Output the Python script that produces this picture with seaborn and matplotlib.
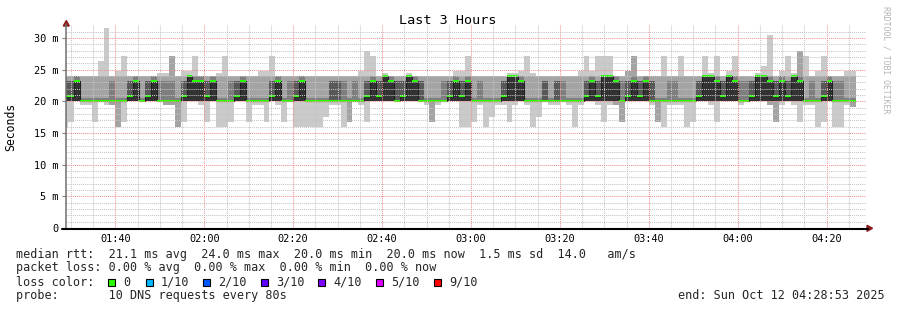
import numpy as np
import matplotlib
matplotlib.use("Agg")
import matplotlib.pyplot as plt
import seaborn as sns
from matplotlib.patches import Polygon, Rectangle
from matplotlib.lines import Line2D

# ---------------- data (ms) ----------------
STEP_S = 80
FIRST_STEP_S = 5280          # 01:28:00, seconds since midnight
VIEW_START_S = 5333          # 01:28:53
VIEW_END_S = 16133           # 04:28:53

# sorted pings per 80 s step (10 DNS requests), rank 1 = fastest
ping01 = [16.0, 16.7, 20.0, 19.4, 19.4, 16.7, 20.0, 19.4, 19.4, 16.0,
          16.7, 20.0, 20.0, 20.0, 20.0, 20.0, 20.0, 19.4, 19.4, 16.0,
          16.7, 20.0, 20.0, 19.4, 16.7, 20.0, 16.0, 16.0, 16.7, 20.0,
          20.0, 16.7, 19.4, 19.4, 16.7, 20.0, 19.4, 16.7, 20.0, 16.0,
          16.0, 16.0, 16.0, 16.0, 17.5, 19.4, 19.4, 16.0, 16.7, 20.0,
          19.4, 16.7, 20.0, 20.0, 20.0, 20.0, 20.0, 20.0, 20.0, 20.0,
          20.0, 19.4, 16.7, 19.4, 20.0, 20.0, 20.0, 16.0, 16.0, 16.7,
          19.4, 16.0, 17.5, 19.4, 19.4, 16.7, 19.4, 20.0, 19.4, 16.0,
          17.5, 20.0, 19.4, 19.4, 20.0, 19.4, 16.0, 19.4, 20.0, 20.0,
          19.4, 16.7, 19.4, 19.4, 16.7, 20.0, 20.0, 20.0, 20.0, 19.4,
          16.7, 16.0, 19.4, 19.4, 19.4, 16.0, 16.7, 20.0, 20.0, 19.4,
          16.7, 20.0, 20.0, 20.0, 19.4, 20.0, 20.0, 20.0, 20.0, 19.4,
          16.7, 19.4, 20.0, 19.4, 16.7, 19.4, 19.4, 16.0, 16.7, 20.0,
          16.0, 16.0, 19.4, 19.1]
ping02 = [20.0, 20.0, 20.0, 20.0, 20.0, 20.0, 20.0, 20.0, 19.4, 16.0,
          20.0, 20.0, 20.0, 20.0, 20.0, 20.0, 20.0, 19.4, 19.4, 16.0,
          20.0, 20.0, 20.0, 20.0, 20.0, 20.0, 20.0, 20.0, 20.0, 20.0,
          20.0, 20.0, 20.0, 20.0, 20.0, 20.0, 20.0, 20.0, 20.0, 20.0,
          20.0, 20.0, 20.0, 20.0, 20.0, 20.0, 20.0, 20.0, 16.7, 20.0,
          20.0, 20.0, 20.0, 20.0, 20.0, 20.0, 20.0, 20.0, 20.0, 20.0,
          20.0, 20.0, 16.7, 20.0, 20.0, 20.0, 20.0, 20.0, 20.0, 20.0,
          20.0, 20.0, 20.0, 20.0, 20.0, 20.0, 20.0, 20.0, 20.0, 20.0,
          20.0, 20.0, 20.0, 20.0, 20.0, 20.0, 20.0, 20.0, 20.0, 20.0,
          20.0, 20.0, 20.0, 19.4, 16.7, 20.0, 20.0, 20.0, 20.0, 20.0,
          16.7, 20.0, 20.0, 20.0, 20.0, 20.0, 20.0, 20.0, 20.0, 20.0,
          20.0, 20.0, 20.0, 20.0, 20.0, 20.0, 20.0, 20.0, 20.0, 19.4,
          16.7, 20.0, 20.0, 20.0, 20.0, 20.0, 20.0, 20.0, 20.0, 20.0,
          20.0, 20.0, 20.0, 19.1]
ping03 = [20.0, 20.0, 20.0, 20.0, 20.0, 20.0, 20.0, 20.0, 20.0, 20.0,
          20.0, 20.0, 20.0, 20.0, 20.0, 20.0, 20.0, 20.0, 20.0, 20.0,
          20.0, 20.0, 20.0, 20.0, 20.0, 20.0, 20.0, 20.0, 20.0, 20.0,
          20.0, 20.0, 20.0, 20.0, 20.0, 20.0, 20.0, 20.0, 20.0, 20.0,
          20.0, 20.0, 20.0, 20.0, 20.0, 20.0, 20.0, 20.0, 20.0, 20.0,
          20.0, 20.0, 20.0, 20.0, 20.0, 20.0, 20.0, 20.0, 20.0, 20.0,
          20.0, 20.0, 20.0, 20.0, 20.0, 20.0, 20.0, 20.0, 20.0, 20.0,
          20.0, 20.0, 20.0, 20.0, 20.0, 20.0, 20.0, 20.0, 20.0, 20.0,
          20.0, 20.0, 20.0, 20.0, 20.0, 20.0, 20.0, 20.0, 20.0, 20.0,
          20.0, 20.0, 20.0, 20.0, 20.0, 20.0, 20.0, 20.0, 20.0, 20.0,
          20.0, 20.0, 20.0, 20.0, 20.0, 20.0, 20.0, 20.0, 20.0, 20.0,
          20.0, 20.0, 20.0, 20.0, 20.0, 20.0, 20.0, 20.0, 20.0, 20.0,
          20.0, 20.0, 20.0, 20.0, 20.0, 20.0, 20.0, 20.0, 20.0, 20.0,
          20.0, 20.0, 20.0, 20.0]
ping04 = list(ping03)
ping05 = list(ping03)
# rank 6 = median (green line)
ping06 = [20.8, 20.8, 23.2, 20.0, 20.0, 20.0, 20.0, 20.0, 20.0, 20.0,
          20.0, 20.8, 23.2, 20.0, 20.8, 23.2, 20.0, 20.0, 20.0, 20.0,
          20.8, 24.0, 23.2, 23.2, 20.8, 23.2, 20.0, 20.0, 20.0, 20.8,
          23.2, 20.0, 20.0, 20.0, 20.0, 20.8, 23.2, 20.0, 20.0, 20.8,
          23.2, 20.0, 20.0, 20.0, 20.0, 20.0, 20.0, 20.0, 20.0, 20.0,
          20.0, 20.8, 23.2, 20.8, 24.0, 23.2, 20.0, 20.8, 24.0, 23.2,
          20.0, 20.0, 20.0, 20.0, 20.0, 20.8, 23.2, 20.8, 23.2, 20.0,
          20.0, 20.0, 20.0, 20.0, 20.8, 24.0, 24.0, 23.2, 20.0, 20.0,
          20.0, 20.0, 20.0, 20.0, 20.0, 20.0, 20.0, 20.0, 20.8, 23.2,
          20.8, 24.0, 24.0, 23.2, 20.0, 20.8, 23.2, 20.8, 23.2, 20.0,
          20.0, 20.0, 20.0, 20.0, 20.0, 20.0, 20.0, 20.8, 24.0, 24.0,
          23.2, 20.8, 24.0, 23.2, 20.0, 20.0, 20.8, 24.0, 24.0, 23.2,
          20.8, 23.2, 20.8, 24.0, 23.2, 20.0, 20.0, 20.0, 20.8, 23.2,
          20.0, 20.0, 20.0, 20.0]
ping07 = [23.2, 23.2, 23.2, 20.0, 20.0, 20.0, 20.0, 20.0, 20.0, 20.0,
          20.0, 23.2, 23.2, 20.0, 23.2, 23.2, 20.0, 20.0, 20.0, 20.0,
          23.2, 24.0, 23.2, 23.2, 23.2, 23.2, 20.0, 20.0, 20.0, 23.2,
          23.2, 20.0, 20.0, 20.0, 20.0, 23.2, 23.2, 20.0, 20.0, 23.2,
          23.2, 20.0, 20.0, 20.0, 20.0, 23.2, 23.2, 20.0, 20.0, 20.0,
          20.0, 23.2, 23.2, 23.2, 24.0, 23.2, 23.2, 23.2, 24.0, 23.2,
          23.2, 20.0, 20.0, 20.0, 20.0, 23.2, 23.2, 23.2, 23.2, 20.0,
          20.0, 20.0, 20.0, 20.0, 23.2, 24.0, 24.0, 23.2, 20.0, 20.0,
          20.0, 23.2, 20.0, 23.2, 20.0, 20.0, 20.0, 20.0, 23.2, 23.2,
          23.2, 24.0, 24.0, 23.2, 20.0, 23.2, 23.2, 23.2, 23.2, 23.2,
          20.0, 20.0, 20.0, 20.0, 20.0, 20.0, 20.0, 23.2, 24.0, 24.0,
          23.2, 23.2, 24.0, 23.2, 20.0, 20.0, 23.2, 24.0, 24.0, 23.2,
          23.2, 23.2, 23.2, 24.0, 23.2, 20.0, 20.0, 20.0, 23.2, 23.2,
          20.0, 20.0, 20.0, 20.0]
ping08 = [23.2, 23.2, 24.0, 20.6, 20.6, 20.6, 20.6, 20.6, 23.2, 20.6,
          20.6, 23.2, 24.0, 20.6, 23.2, 24.0, 23.2, 23.2, 23.2, 20.6,
          23.2, 24.0, 24.0, 24.0, 23.2, 24.0, 20.6, 20.6, 23.2, 23.2,
          24.0, 20.6, 20.6, 20.6, 20.6, 23.2, 24.0, 20.6, 23.2, 23.2,
          24.0, 20.6, 20.6, 20.6, 20.6, 23.2, 23.2, 23.2, 20.6, 23.2,
          20.6, 23.2, 24.0, 23.2, 24.0, 24.0, 23.2, 23.2, 24.0, 24.0,
          23.2, 20.6, 20.6, 20.6, 23.2, 23.2, 24.0, 23.2, 24.0, 20.6,
          23.2, 20.6, 20.6, 20.6, 23.2, 24.0, 24.0, 24.0, 20.6, 20.6,
          20.6, 23.2, 20.6, 23.2, 23.2, 20.6, 20.6, 20.6, 23.2, 24.0,
          23.2, 24.0, 24.0, 24.0, 23.2, 23.2, 24.0, 23.2, 24.0, 23.2,
          20.6, 20.6, 23.2, 23.2, 20.6, 20.6, 20.6, 23.2, 24.0, 24.0,
          24.0, 23.2, 24.0, 24.0, 23.2, 23.2, 23.2, 24.0, 24.0, 24.0,
          23.2, 24.0, 23.2, 24.0, 24.0, 20.6, 23.2, 20.6, 23.2, 24.0,
          23.2, 23.2, 20.6, 20.6]
ping09 = [24.0, 24.0, 24.0, 24.0, 24.0, 24.0, 24.0, 24.0, 24.0, 24.0,
          24.0, 24.0, 24.0, 24.0, 24.0, 24.0, 24.0, 24.0, 27.2, 24.0,
          24.0, 24.0, 24.0, 24.0, 24.0, 24.0, 24.0, 24.0, 24.0, 24.0,
          24.0, 24.0, 24.0, 24.0, 24.0, 24.0, 24.0, 24.0, 24.0, 24.0,
          24.0, 24.0, 24.0, 24.0, 24.0, 24.0, 24.0, 24.0, 24.0, 24.0,
          24.0, 24.0, 24.0, 24.0, 24.0, 24.0, 24.0, 24.0, 24.0, 24.0,
          24.0, 24.0, 24.0, 24.0, 24.0, 24.0, 24.0, 24.0, 24.0, 24.0,
          24.0, 24.0, 24.0, 24.0, 24.0, 24.0, 24.0, 24.0, 24.0, 24.0,
          24.0, 24.0, 24.0, 24.0, 24.0, 24.0, 24.0, 24.0, 24.0, 24.0,
          24.0, 24.0, 24.0, 24.0, 24.0, 24.8, 27.2, 24.0, 24.0, 24.0,
          24.0, 24.0, 24.0, 24.0, 24.0, 24.0, 24.0, 24.0, 24.0, 24.0,
          24.0, 24.0, 24.0, 24.0, 24.0, 24.0, 24.0, 24.0, 24.0, 24.0,
          24.0, 24.0, 24.0, 24.0, 28.0, 24.0, 24.0, 24.0, 24.0, 24.0,
          24.0, 24.0, 24.0, 24.0]
ping10 = [24.0, 24.0, 24.0, 24.0, 24.0, 24.0, 26.4, 31.6, 24.0, 24.8,
          27.2, 24.0, 24.0, 24.0, 24.0, 24.0, 24.4, 24.4, 27.2, 24.0,
          24.8, 24.8, 27.2, 24.0, 24.0, 24.0, 24.5, 27.2, 24.0, 24.0,
          24.0, 24.0, 24.0, 24.8, 24.8, 27.2, 24.0, 24.0, 24.0, 24.0,
          24.0, 24.0, 24.0, 24.0, 24.0, 24.0, 24.0, 24.0, 24.0, 24.0,
          24.8, 28.0, 27.2, 24.0, 24.4, 24.0, 24.0, 24.0, 24.4, 24.0,
          24.0, 24.0, 24.0, 24.0, 24.0, 24.0, 24.8, 24.8, 27.2, 24.0,
          24.0, 24.0, 24.0, 24.0, 24.0, 24.4, 24.4, 24.8, 27.2, 24.4,
          24.0, 24.0, 24.0, 24.0, 24.0, 24.0, 24.0, 24.8, 27.2, 24.8,
          27.2, 27.2, 27.2, 24.0, 24.0, 24.8, 27.2, 24.0, 24.0, 24.0,
          24.0, 27.2, 24.0, 24.0, 27.2, 24.0, 24.0, 24.0, 27.2, 24.4,
          27.2, 24.0, 24.8, 27.2, 24.0, 24.0, 24.0, 24.4, 25.6, 30.5,
          24.0, 24.8, 27.2, 24.4, 28.0, 27.2, 24.0, 24.8, 27.2, 24.0,
          24.0, 24.0, 24.8, 24.8]
rtt_median = ping06

y_ticks = [0, 5, 10, 15, 20, 25, 30]
y_tick_labels = ["0", "5 m", "10 m", "15 m", "20 m", "25 m", "30 m"]
x_tick_labels = ["01:40", "02:00", "02:20", "02:40", "03:00", "03:20",
                 "03:40", "04:00", "04:20"]

legend_line1 = "median rtt:  21.1 ms avg  24.0 ms max  20.0 ms min  20.0 ms now  1.5 ms sd  14.0   am/s"
legend_line2 = "packet loss: 0.00 % avg  0.00 % max  0.00 % min  0.00 % now"
loss_labels = ["0", "1/10", "2/10", "3/10", "4/10", "5/10", "9/10"]
loss_colors = ["#26ff00", "#00b8ff", "#0059ff", "#5e00ff", "#7e00ff", "#dd00ff", "#ff0000"]
probe_text = "probe:       10 DNS requests every 80s"
end_text = "end: Sun Oct 12 04:28:53 2025"

# ---------------- figure ----------------
sns.set_theme(style="white")
plt.rcParams['font.family'] = ['DejaVu Sans Mono', 'DejaVu Sans']

W, H = 897, 310
fig = plt.figure(figsize=(W / 100, H / 100), dpi=100)
fig.patch.set_facecolor("white")
PL, PR, PB, PT = 66, 866, 228, 25.3
ax = fig.add_axes([PL / W, 1 - PB / H, (PR - PL) / W, (PB - PT) / H])
ax.set_facecolor("white")

def fx(x):
    return x / W

def fy(y):
    return 1 - y / H

N = len(rtt_median)
edges = (FIRST_STEP_S + STEP_S * np.arange(N + 1)) / 60.0

def ext(a):
    a = np.asarray(a, float)
    return np.append(a, a[-1])

pings = [ping01, ping02, ping03, ping04, ping05,
         ping06, ping07, ping08, ping09, ping10]
grays = ["#cacaca", "#a4a4a4", "#7e7e7e", "#585858", "#323232"]
for i in range(5):
    ax.fill_between(edges, ext(pings[i]), ext(pings[9 - i]), step="post",
                    color=grays[i], linewidth=0, antialiased=False, zorder=1)

med = ext(rtt_median)
sns.lineplot(x=edges, y=med, drawstyle="steps-post", color="#202020",
             linewidth=0.8, ax=ax, zorder=2, legend=False, estimator=None, sort=False)
ax.fill_between(edges, med - 0.18, med + 0.18, step="post", color=loss_colors[0],
                linewidth=0, antialiased=False, zorder=2.5)

ax.set_xlim(VIEW_START_S / 60.0, VIEW_END_S / 60.0)
ax.set_ylim(0, 32)

# grid (dotted, drawn over the smoke like rrdtool)
dot = (0, (1, 1))
for m in range(90, 269, 5):
    major = (m % 20 == 0)
    ax.axvline(m, color="#f09090" if major else "#c4c4c4", linewidth=0.75,
               linestyle=dot, zorder=3)
for v in range(1, 32):
    major = (v % 5 == 0)
    ax.axhline(v, color="#f09090" if major else "#c4c4c4", linewidth=0.75,
               linestyle=dot, zorder=3)

for s in ax.spines.values():
    s.set_visible(False)

ax.set_yticks(y_ticks)
ax.set_yticklabels(y_tick_labels)
ax.set_xticks(np.arange(100, 261, 20))
ax.set_xticklabels(x_tick_labels)
ax.tick_params(axis="y", which="major", length=3, width=0.8, color="#808080",
               pad=2.5, labelsize=7.4, labelcolor="black", left=True)
ax.tick_params(axis="x", which="major", length=0, pad=4.5, labelsize=7.4,
               labelcolor="black", bottom=True)
ax.grid(False)
ax.set_xlabel("")
ax.set_ylabel("")

# axes lines and arrows
fig.add_artist(Line2D([fx(66), fx(66)], [fy(228), fy(24)], color="#707070",
                      linewidth=1.1, transform=fig.transFigure))
fig.add_artist(Line2D([fx(62), fx(868)], [fy(228.5), fy(228.5)], color="black",
                      linewidth=1.5, transform=fig.transFigure))
arrow_col = "#8b1a1a"
fig.add_artist(Polygon([[fx(63.3), fy(26)], [fx(69.3), fy(26)], [fx(66.3), fy(20.5)]],
                       closed=True, color=arrow_col, transform=fig.transFigure))
fig.add_artist(Polygon([[fx(867), fy(225.3)], [fx(867), fy(231.3)], [fx(872.5), fy(228.3)]],
                       closed=True, color=arrow_col, transform=fig.transFigure))

# texts
fig.text(fx(448), fy(24), "Last 3 Hours", ha="center", va="baseline", fontsize=9.7,
         color="black")
fig.text(fx(11), fy(127), "Seconds", ha="center", va="center", rotation=90,
         fontsize=8.3, color="black")
fig.text(fx(886), fy(60), "RRDTOOL / TOBI OETIKER", ha="center", va="center",
         rotation=270, fontsize=5.9, color="#b4b4b4")

LEG_FS = 8.5
fig.text(fx(16), fy(258), legend_line1, ha="left", va="baseline", fontsize=LEG_FS)
fig.text(fx(16), fy(271.5), legend_line2, ha="left", va="baseline", fontsize=LEG_FS)
fig.text(fx(16), fy(285.5), "loss color:", ha="left", va="baseline", fontsize=LEG_FS)
box_x = [108, 146, 203, 261, 318, 376, 434]
for bx, lab, col in zip(box_x, loss_labels, loss_colors):
    fig.add_artist(Rectangle((fx(bx), fy(286)), 7 / W, 7 / H, facecolor=col,
                             edgecolor="black", linewidth=0.8, transform=fig.transFigure))
    fig.text(fx(bx + 15), fy(285.5), lab, ha="left", va="baseline", fontsize=LEG_FS)
fig.text(fx(16), fy(299), probe_text, ha="left", va="baseline", fontsize=LEG_FS)
fig.text(fx(678), fy(299), end_text, ha="left", va="baseline", fontsize=LEG_FS)

fig.savefig("out.png", dpi=100, facecolor="white")
